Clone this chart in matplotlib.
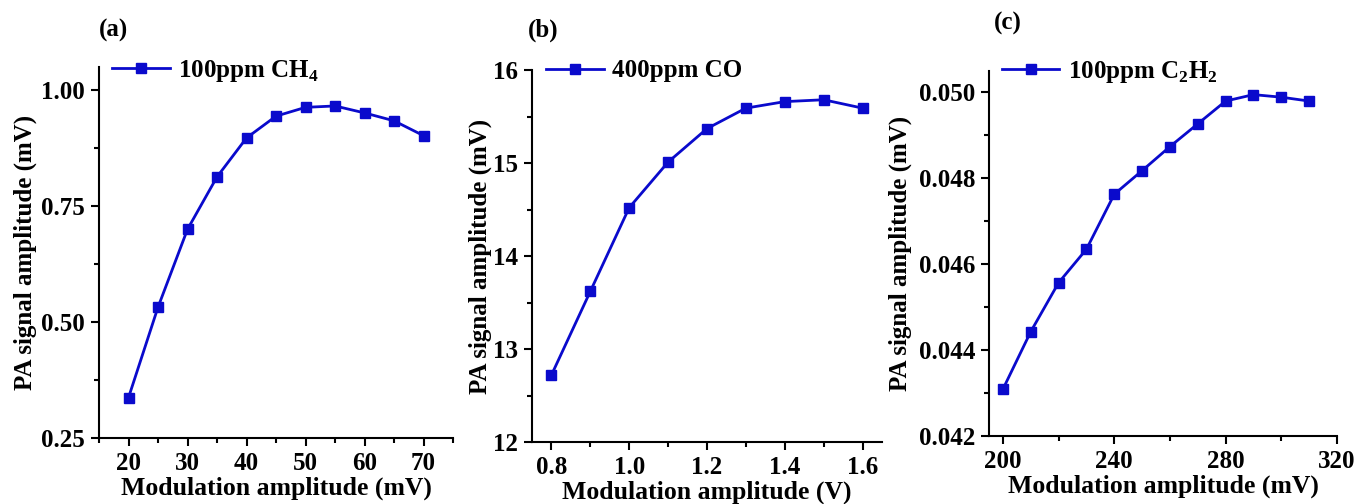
import matplotlib
matplotlib.use("Agg")
import matplotlib.pyplot as plt
from matplotlib.ticker import MultipleLocator, FormatStrFormatter

plt.rcParams['font.family'] = ['Liberation Serif', 'DejaVu Serif']
plt.rcParams['font.weight'] = 'bold'
plt.rcParams['mathtext.fontset'] = 'custom'
plt.rcParams['mathtext.rm'] = 'Liberation Serif:bold'
plt.rcParams['mathtext.bf'] = 'Liberation Serif:bold'

# Panel (a): CH4
x_a = [20, 25, 30, 35, 40, 45, 50, 55, 60, 65, 70]
y_a = [0.337, 0.532, 0.700, 0.813, 0.897, 0.944, 0.963, 0.966, 0.951, 0.934, 0.902]
# Panel (b): CO
x_b = [0.8, 0.9, 1.0, 1.1, 1.2, 1.3, 1.4, 1.5, 1.6]
y_b = [12.72, 13.62, 14.52, 15.01, 15.37, 15.59, 15.66, 15.68, 15.59]
# Panel (c): C2H2
x_c = [200, 210, 220, 230, 240, 250, 260, 270, 280, 290, 300, 310]
y_c = [0.04309, 0.04443, 0.04557, 0.04635, 0.04763, 0.04818, 0.04874, 0.04927,
       0.04980, 0.04995, 0.04989, 0.04980]

labels = [r'100ppm CH$_{\mathregular{4}}$', '400ppm CO', r'100ppm C$_{\mathregular{2}}$H$_{\mathregular{2}}$']
panel_tags = ['(a)', '(b)', '(c)']
xlabels = ['Modulation amplitude (mV)', 'Modulation amplitude (V)', 'Modulation amplitude (mV)']
ylabel = 'PA signal amplitude (mV)'

color = '#0A0ACC'

fig = plt.figure(figsize=(13.57, 5.04), dpi=100)
W, H = 1357, 504
boxes = [(99, 453, 438, 67), (532, 882, 442, 70), (989, 1337, 436, 71)]
axes = []
for (l, r, b, t) in boxes:
    axes.append(fig.add_axes([l / W, 1 - b / H, (r - l) / W, (b - t) / H]))

data = [(x_a, y_a), (x_b, y_b), (x_c, y_c)]
xlims = [(15, 75), (0.75, 1.65), (195, 320)]
ylims = [(0.25, 1.05), (12, 16), (0.042, 0.0505)]
xmaj = [10, 0.2, 40]
xmin = [5, 0.1, 20]
ymaj = [0.25, 1, 0.002]
ymin = [0.125, 0.5, 0.001]
xfmt = ['%d', '%.1f', '%d']
yfmt = ['%.2f', '%d', '%.3f']
tag_pos = [(113, 30), (543, 30), (1008, 23)]
ylab_right = [37, 492, 912]
legend_pos = [(112, 71), (546, 71), (1002, 72)]

for i, ax in enumerate(axes):
    x, y = data[i]
    l, r, b, t = boxes[i]
    ax.plot(x, y, '-s', color=color, lw=2, ms=7.5, mfc=color, mec=color, label=labels[i])
    ax.set_xlim(*xlims[i])
    ax.set_ylim(*ylims[i])
    ax.xaxis.set_major_locator(MultipleLocator(xmaj[i]))
    ax.xaxis.set_minor_locator(MultipleLocator(xmin[i]))
    ax.yaxis.set_major_locator(MultipleLocator(ymaj[i]))
    ax.yaxis.set_minor_locator(MultipleLocator(ymin[i]))
    ax.xaxis.set_major_formatter(FormatStrFormatter(xfmt[i]))
    ax.yaxis.set_major_formatter(FormatStrFormatter(yfmt[i]))
    for s in ['top', 'right']:
        ax.spines[s].set_visible(False)
    for s in ['left', 'bottom']:
        ax.spines[s].set_linewidth(1.5)
    ax.tick_params(which='major', direction='out', length=6, width=1.5, labelsize=18, pad=4)
    ax.tick_params(which='minor', direction='out', length=3.5, width=1.5)
    for lab in ax.get_xticklabels() + ax.get_yticklabels():
        lab.set_fontweight('bold')
    ax.set_xlabel(xlabels[i], fontsize=18.5, fontweight='bold', labelpad=1)
    ax.set_ylabel(ylabel, fontsize=18, fontweight='bold')
    ax.yaxis.set_label_coords((ylab_right[i] - l) / (r - l), 0.5)
    lx, ly = legend_pos[i]
    ax.legend(loc='center left', frameon=False, prop={'weight': 'bold', 'size': 18},
              handlelength=2.3, handletextpad=0.35, borderpad=0, borderaxespad=0,
              bbox_to_anchor=((lx - l) / (r - l), (b - ly) / (b - t)))
    fig.text(tag_pos[i][0] / W, 1 - tag_pos[i][1] / H, panel_tags[i], fontsize=18,
             fontweight='bold', ha='center', va='center')

fig.savefig('out.png', dpi=100)
